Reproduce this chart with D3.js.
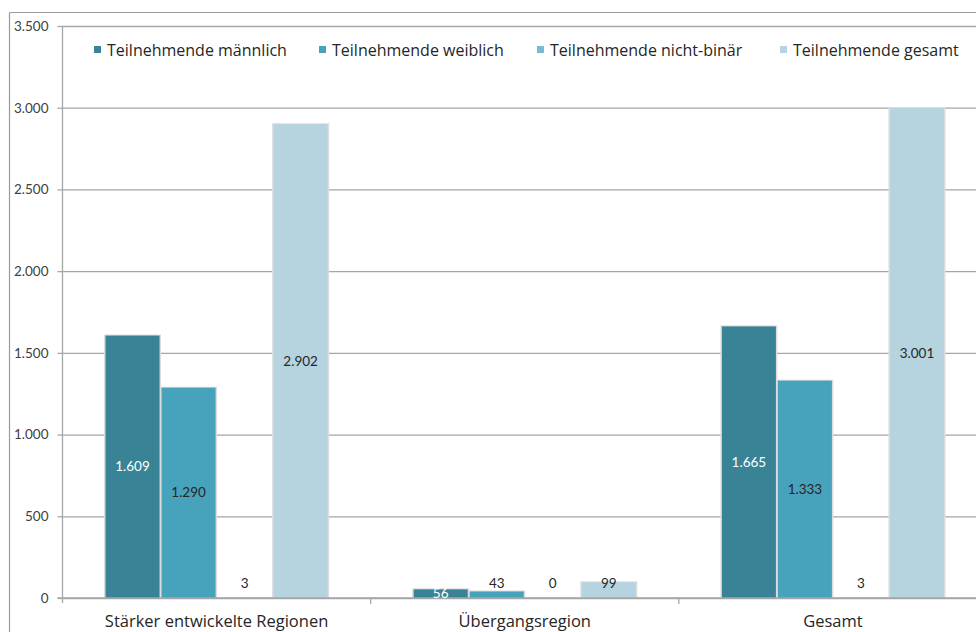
<!DOCTYPE html>
<html>
<head>
<meta charset="utf-8">
<script src="https://cdn.jsdelivr.net/npm/d3@7/dist/d3.min.js"></script>
<style>
  html, body { margin: 0; padding: 0; background: #fff; }
  svg { display: block; font-family: Lato, "Open Sans", sans-serif; }
</style>
</head>
<body>
<svg id="chart" width="976" height="632"></svg>
<script>
// Teilnehmende nach Regionenkategorie und Geschlecht
const categories = ["Stärker entwickelte Regionen", "Übergangsregion", "Gesamt"];
const seriesNames = ["Teilnehmende männlich", "Teilnehmende weiblich", "Teilnehmende nicht-binär", "Teilnehmende gesamt"];
const maleValues = [1609, 56, 1665];
const femaleValues = [1290, 43, 1333];
const nonBinaryValues = [3, 0, 3];
const totalValues = [2902, 99, 3001];
const yTicks = [0, 500, 1000, 1500, 2000, 2500, 3000, 3500];
const seriesColors = ["#388396", "#47a2bb", "#78bcd2", "#b5d4df"];
const labelColors = ["#ffffff", "#262626", "#262626", "#262626"];

const seriesValues = [maleValues, femaleValues, nonBinaryValues, totalValues];

const svg = d3.select("#chart");
const W = 976, H = 632;
const plot = { left: 62.5, top: 26, right: 987, bottom: 598 };
const wideFont = "'Open Sans', Lato, sans-serif";

const deLocale = d3.formatLocale({ decimal: ",", thousands: ".", grouping: [3], currency: ["", " €"] });
const fmt = deLocale.format(",d");

const x = d3.scaleBand().domain(categories).range([plot.left, plot.right]).paddingInner(0).paddingOuter(0);
// Excel-style gap width of 150 %: four bars plus 1.5 bar widths of gap per category
const barW = x.bandwidth() / 5.5;
const xs = d3.scaleBand().domain(d3.range(seriesNames.length))
  .range([barW * 0.75, barW * 0.75 + barW * 4]).padding(0);
const y = d3.scaleLinear().domain([0, 3500]).range([plot.bottom, plot.top]);

// outer frame (top and left edges)
svg.append("line").attr("x1", 9.5).attr("x2", W).attr("y1", 12.5).attr("y2", 12.5)
  .attr("stroke", "#9a9a9a").attr("stroke-width", 1.2);
svg.append("line").attr("x1", 9.5).attr("x2", 9.5).attr("y1", 12.5).attr("y2", H)
  .attr("stroke", "#9a9a9a").attr("stroke-width", 1.2);

// gridlines and value axis
const yAxis = d3.axisLeft(y).tickValues(yTicks).tickFormat(fmt)
  .tickSize(plot.left - plot.right).tickPadding(14);
const gy = svg.append("g").attr("transform", `translate(${plot.left},0)`).call(yAxis);
gy.select(".domain").remove();
gy.selectAll(".tick line").attr("stroke", "#a6a6a6").attr("stroke-width", 1.3);
gy.selectAll(".tick").append("line").attr("x1", -5).attr("x2", 0)
  .attr("stroke", "#a6a6a6").attr("stroke-width", 1.3);
gy.selectAll(".tick text").attr("fill", "#404040").attr("font-size", 13.5)
  .attr("font-family", "Lato, sans-serif").attr("x", -14);

svg.append("line").attr("x1", plot.left).attr("x2", plot.left)
  .attr("y1", plot.top).attr("y2", plot.bottom + 5)
  .attr("stroke", "#a6a6a6").attr("stroke-width", 1.3);

// bars
svg.append("clipPath").attr("id", "plotClip").append("rect")
  .attr("x", plot.left).attr("y", plot.top)
  .attr("width", plot.right - plot.left).attr("height", plot.bottom - plot.top);

const barsG = svg.append("g").attr("clip-path", "url(#plotClip)");
const cells = [];
categories.forEach((c, ci) => {
  seriesValues.forEach((vals, si) => {
    cells.push({ cat: c, s: si, v: vals[ci] });
  });
});

barsG.selectAll("rect.shadow").data(cells).join("rect").attr("class", "shadow")
  .attr("x", d => x(d.cat) + xs(d.s) - 0.5)
  .attr("y", d => y(d.v) - 0.5)
  .attr("width", xs.bandwidth() + 1)
  .attr("height", d => y(0) - y(d.v) + 0.5)
  .attr("fill", "#dcdcdc");

barsG.selectAll("rect.bar").data(cells).join("rect").attr("class", "bar")
  .attr("x", d => x(d.cat) + xs(d.s) + 1)
  .attr("y", d => y(d.v) + 0.5)
  .attr("width", xs.bandwidth() - 2)
  .attr("height", d => Math.max(0, y(0) - y(d.v) - 0.5))
  .attr("fill", d => seriesColors[d.s]);

// baseline
svg.append("line").attr("x1", plot.left - 5).attr("x2", W)
  .attr("y1", plot.bottom).attr("y2", plot.bottom)
  .attr("stroke", "#a6a6a6").attr("stroke-width", 1.3);

// category separators
categories.slice(1).forEach(c => {
  svg.append("line").attr("x1", x(c)).attr("x2", x(c))
    .attr("y1", plot.bottom).attr("y2", plot.bottom + 6)
    .attr("stroke", "#a6a6a6").attr("stroke-width", 1.3);
});

// category labels
svg.selectAll("text.cat").data(categories).join("text").attr("class", "cat")
  .attr("x", d => x(d) + x.bandwidth() / 2 - 0)
  .attr("y", 627)
  .attr("text-anchor", "middle")
  .attr("font-family", wideFont)
  .attr("font-size", 16.5)
  .attr("fill", "#262626")
  .text(d => d);

// data labels: centred in the bar; dark labels stay clear of the axis
const labelG = svg.append("g").attr("clip-path", "url(#plotClip)");
labelG.selectAll("text").data(cells).join("text")
  .attr("x", d => x(d.cat) + xs(d.s) + xs.bandwidth() / 2)
  .attr("y", d => {
    const mid = (y(d.v) + y(0)) / 2;
    return d.s === 0 ? mid : Math.min(mid, plot.bottom - 15);
  })
  .attr("dy", "0.35em")
  .attr("text-anchor", "middle")
  .attr("font-size", 13.5)
  .attr("fill", d => labelColors[d.s])
  .text(d => fmt(d.v));

// legend
const legendX = [94, 319, 537, 780];
const legend = svg.append("g");
seriesNames.forEach((name, i) => {
  const g = legend.append("g").attr("transform", `translate(${legendX[i]},0)`);
  g.append("rect").attr("x", 0).attr("y", 46).attr("width", 7).attr("height", 7)
    .attr("fill", seriesColors[i]);
  g.append("text").attr("x", 13).attr("y", 50).attr("dy", "0.35em")
    .attr("font-family", wideFont)
    .attr("font-size", 16).attr("fill", "#262626").text(name);
});
</script>
</body>
</html>
